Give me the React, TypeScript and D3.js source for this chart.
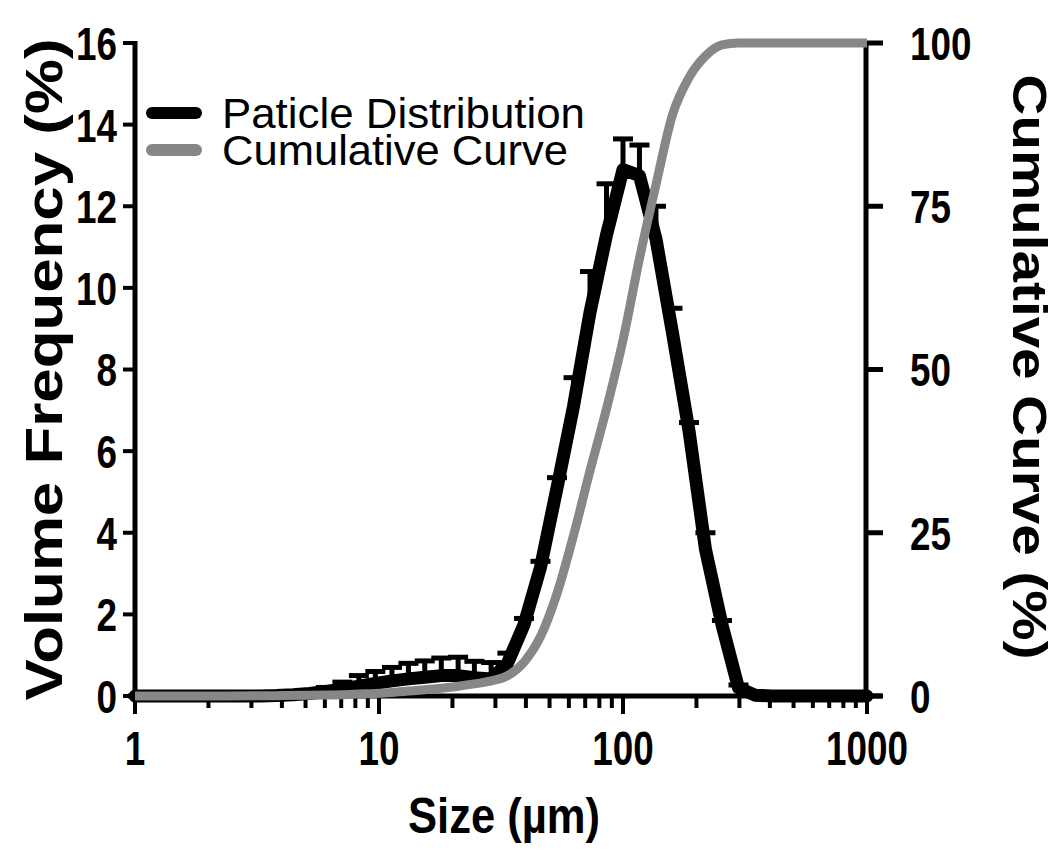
import React from "react";
import * as d3 from "d3";

// Particle size bins (µm)
const sizes = [
  1, 1.09, 1.28, 1.49, 1.74, 2.04, 2.38, 2.78, 3.25, 3.8, 4.44, 5.18, 6.06, 7.08,
  8.27, 9.66, 11.3, 13.2, 15.4, 18.0, 21.1, 24.6, 28.8, 33.6, 39.3, 45.9, 53.65,
  62.7, 73.25, 85.6, 100, 116.8, 136.5, 159.5, 186.4, 217.7, 254.4, 297.3, 347.3,
  405.8, 474.2, 554.0, 647.3, 756.3, 883.7, 1000,
];
// Volume frequency mean (%)
const volumeFreq = [
  0, 0, 0, 0, 0, 0, 0, 0, 0, 0.01, 0.03, 0.06, 0.11, 0.17,
  0.24, 0.31, 0.37, 0.42, 0.46, 0.5, 0.5, 0.45, 0.42, 0.8, 1.75, 3.15, 5.1,
  7.1, 9.4, 11.3, 12.9, 12.75, 11.2, 8.9, 6.5, 3.6, 1.75, 0.2, 0.02,
  0, 0, 0, 0, 0, 0, 0,
];
// Standard deviation (%)
const volumeSD = [
  0, 0, 0, 0, 0, 0, 0, 0, 0, 0.01, 0.02, 0.05, 0.1, 0.17,
  0.26, 0.29, 0.33, 0.38, 0.4, 0.43, 0.45, 0.4, 0.4, 0.25, 0.15, 0.15, 0.25,
  0.7, 1.0, 1.25, 0.75, 0.75, 0.8, 0.6, 0.2, 0.4, 0.1, 0.07, 0,
  0, 0, 0, 0, 0, 0, 0,
];
// Cumulative curve
const cumSizes = [
  1, 2.38, 3.8, 5.18, 6.06, 7.08, 8.27, 9.66, 11.3, 13.2, 15.4, 18.0, 21.1, 24.6,
  28.8, 33.6, 39.3, 45.9, 53.65, 62.7, 73.25, 85.6, 100, 116.8, 136.5, 159.5,
  186.4, 217.7, 254.4, 297.3, 1000,
];
const cumValues = [
  0, 0, 0.05, 0.1, 0.15, 0.2, 0.3, 0.4, 0.55, 0.75, 0.95, 1.2, 1.5, 1.85,
  2.3, 3.1, 5.2, 9.1, 15.7, 24.6, 34.5, 44, 54.5, 67, 78.3, 89,
  94.7, 98, 99.7, 100, 100,
];
const leftTicks = [0, 2, 4, 6, 8, 10, 12, 14, 16];
const rightTicks = [0, 25, 50, 75, 100];
const xMajorTicks = [1, 10, 100, 1000];
const legendLabels = ["Paticle Distribution", "Cumulative Curve"];

const FONT = "'Liberation Sans', Arial, sans-serif";
const DIGIT_W = 20.5;

export default function App() {
  const W = 1055;
  const H = 852;
  const x = d3.scaleLog().domain([1, 1000]).range([135, 867]);
  const yL = d3.scaleLinear().domain([0, 16]).range([696, 43]);
  const yR = d3.scaleLinear().domain([0, 100]).range([696, 43]);

  const minorTicks: number[] = [];
  [1, 10, 100].forEach((d) => {
    for (let m = 2; m <= 9; m++) minorTicks.push(d * m);
  });

  const distLine = d3
    .line<number>()
    .x((_, i) => x(sizes[i]))
    .y((d) => yL(d))
    .curve(d3.curveLinear)(volumeFreq) as string;

  const cumLine = d3
    .line<number>()
    .x((_, i) => x(cumSizes[i]))
    .y((d) => yR(d))
    .curve(d3.curveMonotoneX)(cumValues) as string;

  const capHalf = 10;
  const tl = (t: number) => String(t).length * DIGIT_W;

  return (
    <svg
      width={W}
      height={H}
      style={{ position: "absolute", left: 0, top: 0, background: "#fff" }}
      fontFamily={FONT}
    >
      <rect x={0} y={0} width={W} height={H} fill="#fff" />

      {/* Left axis */}
      <line x1={135} x2={135} y1={yL(16) - 2} y2={yL(0) + 2} stroke="#000" strokeWidth={5} />
      {leftTicks.map((t) => (
        <g key={"l" + t}>
          <line x1={123} x2={135} y1={yL(t)} y2={yL(t)} stroke="#000" strokeWidth={4} />
          <text
            x={117}
            y={yL(t)}
            dy="0.36em"
            textAnchor="end"
            fontSize={47}
            fontWeight="bold"
            textLength={tl(t)}
            lengthAdjust="spacingAndGlyphs"
          >
            {t}
          </text>
        </g>
      ))}

      {/* Right axis */}
      <line x1={866} x2={866} y1={yR(100) - 2} y2={yR(0) + 2} stroke="#000" strokeWidth={5} />
      {rightTicks.map((t) => (
        <g key={"r" + t}>
          <line x1={866} x2={883} y1={yR(t)} y2={yR(t)} stroke="#000" strokeWidth={5} />
          <text
            x={910}
            y={yR(t)}
            dy="0.36em"
            textAnchor="start"
            fontSize={47}
            fontWeight="bold"
            textLength={tl(t)}
            lengthAdjust="spacingAndGlyphs"
          >
            {t}
          </text>
        </g>
      ))}

      {/* Bottom axis */}
      <line x1={128} x2={882} y1={696} y2={696} stroke="#000" strokeWidth={5} />
      {minorTicks.map((t) => (
        <line key={"m" + t} x1={x(t)} x2={x(t)} y1={696} y2={708} stroke="#000" strokeWidth={4} />
      ))}
      {xMajorTicks.map((t) => (
        <g key={"x" + t}>
          <line x1={x(t)} x2={x(t)} y1={696} y2={714} stroke="#000" strokeWidth={4} />
          <text
            x={x(t)}
            y={765}
            textAnchor="middle"
            fontSize={48}
            fontWeight="bold"
            textLength={tl(t)}
            lengthAdjust="spacingAndGlyphs"
          >
            {t}
          </text>
        </g>
      ))}

      {/* Axis titles */}
      <text
        x={504}
        y={833}
        textAnchor="middle"
        fontSize={50}
        fontWeight="bold"
        textLength={192}
        lengthAdjust="spacingAndGlyphs"
      >
        Size (µm)
      </text>
      <text
        transform={`translate(62, ${yL(8)}) rotate(-90)`}
        textAnchor="middle"
        fontSize={52}
        fontWeight="bold"
        textLength={662}
        lengthAdjust="spacingAndGlyphs"
      >
        Volume Frequency (%)
      </text>
      <text
        transform={`translate(1013, 367) rotate(90)`}
        textAnchor="middle"
        fontSize={48}
        fontWeight="bold"
        textLength={585}
        lengthAdjust="spacingAndGlyphs"
      >
        Cumulative Curve (%)
      </text>

      {/* Distribution line */}
      <path d={distLine} fill="none" stroke="#000" strokeWidth={13} strokeLinejoin="round" strokeLinecap="round" />
      {/* Error bars (above) */}
      {volumeFreq.map((v, i) =>
        volumeSD[i] > 0 ? (
          <g key={"e" + i}>
            <line
              x1={x(sizes[i])}
              x2={x(sizes[i])}
              y1={yL(v)}
              y2={yL(v + volumeSD[i])}
              stroke="#000"
              strokeWidth={5}
            />
            <line
              x1={x(sizes[i]) - capHalf}
              x2={x(sizes[i]) + capHalf}
              y1={yL(v + volumeSD[i])}
              y2={yL(v + volumeSD[i])}
              stroke="#000"
              strokeWidth={5}
            />
          </g>
        ) : null
      )}

      {/* Cumulative line */}
      <path d={cumLine} fill="none" stroke="#878787" strokeWidth={9} strokeLinejoin="round" />

      {/* Legend */}
      <line x1={152} x2={196} y1={113} y2={113} stroke="#000" strokeWidth={12} strokeLinecap="round" />
      <text
        x={222}
        y={113}
        dy="0.36em"
        fontSize={42}
        textLength={363}
        lengthAdjust="spacingAndGlyphs"
      >
        {legendLabels[0]}
      </text>
      <line x1={152} x2={196} y1={150} y2={150} stroke="#878787" strokeWidth={12} strokeLinecap="round" />
      <text
        x={222}
        y={150}
        dy="0.36em"
        fontSize={42}
        textLength={346}
        lengthAdjust="spacingAndGlyphs"
      >
        {legendLabels[1]}
      </text>
    </svg>
  );
}
